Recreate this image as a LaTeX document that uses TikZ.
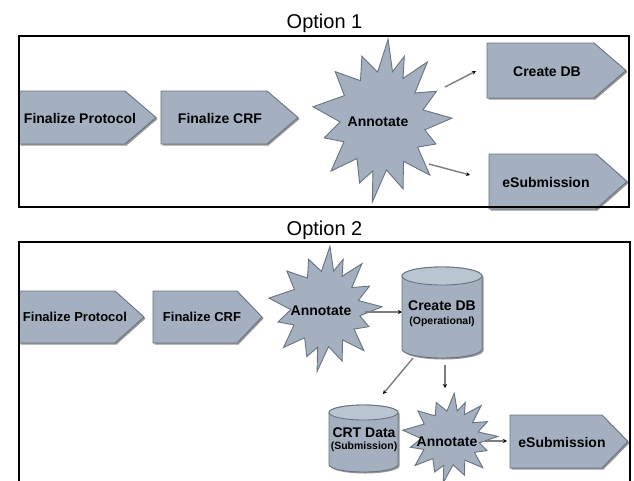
\documentclass[tikz,border=0pt]{standalone}
\usepackage{fontspec}
\setmainfont{Liberation Sans}
\usetikzlibrary{arrows.meta}
\definecolor{shp}{RGB}{164,176,192}
\definecolor{shptop}{RGB}{186,197,210}
\definecolor{edge}{RGB}{105,115,128}
\definecolor{shad}{RGB}{150,150,150}
\definecolor{conn}{RGB}{125,125,125}
\tikzset{
 shapesty/.style={fill=shp, draw=edge, line width=0.9pt, line join=miter},
 shadsty/.style={fill=shad},
 lbl/.style={font=\fontsize{14}{14}\selectfont\bfseries, inner sep=0pt, text height=10pt, text depth=0pt},
 lblm/.style={font=\fontsize{13}{13}\selectfont\bfseries, inner sep=0pt, text height=9.3pt, text depth=0pt},
 lbls/.style={font=\fontsize{10.5}{10.5}\selectfont\bfseries, inner sep=0pt, text height=7.5pt, text depth=0pt},
 ttl/.style={font=\fontsize{20}{20}\selectfont, inner sep=0pt, anchor=base},
 framesty/.style={draw=black, line width=1.4pt},
 connsty/.style={draw=conn, line width=1.4pt, -{Stealth[length=4pt, width=4pt, black]}},
}
\newcommand\chev[5]{%
 \fill[shadsty, xshift=1.5pt, yshift=-1.5pt] (#1,#4) -- (#2,#4) -- (#3,{(#4+#5)/2}) -- (#2,#5) -- (#1,#5) -- cycle;
 \draw[shapesty] (#1,#4) -- (#2,#4) -- (#3,{(#4+#5)/2}) -- (#2,#5) -- (#1,#5) -- cycle;}
\newcommand\cylshape[5]{%
 \fill[shadsty, xshift=1.5pt, yshift=-1.5pt] (#1,{#3+#5}) -- (#1,{#4-#5}) arc[start angle=180, end angle=360, x radius={((#2)-(#1))/2*1pt}, y radius=#5pt] -- (#2,{#3+#5}) arc[start angle=0, end angle=180, x radius={((#2)-(#1))/2*1pt}, y radius=#5pt] -- cycle;
 \draw[shapesty] (#1,{#3+#5}) -- (#1,{#4-#5}) arc[start angle=180, end angle=360, x radius={((#2)-(#1))/2*1pt}, y radius=#5pt] -- (#2,{#3+#5}) arc[start angle=0, end angle=180, x radius={((#2)-(#1))/2*1pt}, y radius=#5pt] -- cycle;
 \draw[shapesty, fill=shptop] ({(#1+#2)/2},{#3+#5}) ellipse [x radius={((#2)-(#1))/2*1pt}, y radius=#5pt];}
\newcommand\burst[4]{%
 \begin{scope}[shift={(#1,#2)}, x=#3pt, y=#4pt]
 \draw[shapesty] (85:1) -- (96:0.6) -- (110:0.84) -- (122:0.58) -- (138:0.9) -- (150:0.62) -- (170:1) -- (181:0.6) -- (194:0.85) -- (205:0.6) -- (220:0.95) -- (232:0.58) -- (247:0.82) -- (258:0.62) -- (262:1) -- (276:0.6) -- (290:0.88) -- (302:0.58) -- (316:0.95) -- (328:0.6) -- (340:0.82) -- (350:0.62) -- (2:1) -- (13:0.6) -- (25:0.86) -- (36:0.58) -- (48:0.97) -- (60:0.6) -- (68:0.85) -- (76:0.62) -- cycle;
 \end{scope}}
\begin{document}
\begin{tikzpicture}[x=1pt, y=-1pt]
\fill[white] (0,0) rectangle (634,480);
\useasboundingbox (0,0) rectangle (634,480);
\clip (0,0) rectangle (634,480);
% ---------- Option 1 ----------
\node[ttl] (t1) at (324.5,28) {Option 1};
\chev{19}{125}{156}{91}{144}
\node[lbl] (fp1) at (80,118) {Finalize Protocol};
\chev{161}{267}{298}{91}{144}
\node[lbl] (crf1) at (220,118) {Finalize CRF};
\burst{382}{121}{70}{82}
\node[lbl] (ann1) at (378,121) {Annotate};
\chev{487}{594}{626}{43}{98}
\node[lbl] (cdb1) at (547,71) {Create DB};
\chev{489}{596}{627}{154}{209}
\node[lbl] (es1) at (546,182) {eSubmission};
\coordinate (a1s) at (445,87); \coordinate (a1e) at (476,71);
\coordinate (a2s) at (429,164); \coordinate (a2e) at (470,175);
\draw[connsty] (a1s) -- (a1e);
\draw[connsty] (a2s) -- (a2e);
\draw[framesty] (19,36) rectangle (629,207);
% ---------- Option 2 ----------
\node[ttl] (t2) at (324.5,235) {Option 2};
\chev{19}{115}{144}{291}{343}
\node[lblm] (fp2) at (75,317) {Finalize Protocol};
\chev{153}{237}{262}{291}{343}
\node[lblm] (crf2) at (202,317) {Finalize CRF};
\burst{325}{309}{57}{63}
\node[lbl] (ann2) at (321,310) {Annotate};
\cylshape{402}{482}{267}{358}{9}
\node[lbl] (db2) at (442,305) {Create DB};
\node[lbls] (op2) at (442,321) {(Operational)};
\cylshape{329}{398}{405}{472}{7.5}
\node[lbl] (crt) at (364,432) {CRT Data};
\node[lbls] (sub) at (364,446) {(Submission)};
\burst{450}{438}{48}{45}
\node[lbl] (ann3) at (447,441) {Annotate};
\chev{510}{602}{628}{415}{468}
\node[lbl] (es2) at (562,442) {eSubmission};
\coordinate (b1s) at (365,312); \coordinate (b1e) at (402,312);
\coordinate (b2s) at (413,358); \coordinate (b2e) at (383,394);
\coordinate (b3s) at (445,365); \coordinate (b3e) at (445,388);
\coordinate (b4s) at (485,441); \coordinate (b4e) at (507,441);
\draw[connsty] (b1s) -- (b1e);
\draw[connsty] (b2s) -- (b2e);
\draw[connsty] (b3s) -- (b3e);
\draw[connsty] (b4s) -- (b4e);
\draw[framesty] (19,490) -- (19,242) -- (630,242) -- (630,490);
\end{tikzpicture}
\end{document}
